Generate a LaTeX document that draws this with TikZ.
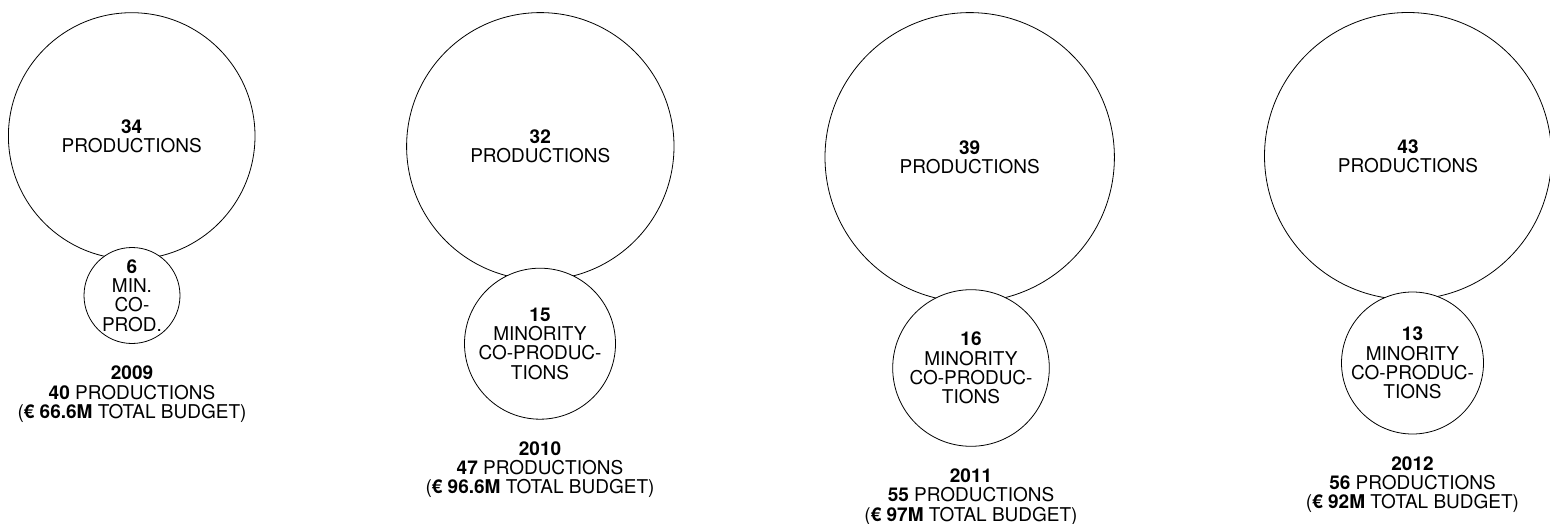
\documentclass[tikz,border=0pt]{standalone}
\usepackage{fontspec}
\setmainfont{TeX Gyre Heros}
\usetikzlibrary{positioning}
\tikzset{
	bigc/.style={circle, draw, line width=0.8pt, inner sep=0pt, align=center},
	minc/.style={circle, draw, fill=white, line width=0.8pt, inner sep=0pt, align=center},
	caption/.style={align=center, inner sep=0pt},
	every node/.style={font=\fontsize{19}{19.2}\selectfont}
}

\begin{document}
\begin{tikzpicture}[x=1pt, y=-1pt]
		%%%%% START %%%%%
		
		\useasboundingbox (0, 0) rectangle (1550, 524);
		
		% 2009
		\node[bigc, minimum size=246.6pt] (big1) at (131.7, 136) {\textbf{34}\\PRODUCTIONS};
		\node[minc, minimum size=96pt] (min1) at (132, 295.5) {\textbf{6}\\MIN.\\CO-\\PROD.};
		\node[caption, below=22pt of min1] (cap1) {\textbf{2009}\\\textbf{40} PRODUCTIONS\\(\textbf{€ 66.6M} TOTAL BUDGET)};
		
		% 2010
		\node[bigc, minimum size=267.4pt] (big2) at (540.3, 146.3) {\textbf{32}\\PRODUCTIONS};
		\node[minc, minimum size=151pt] (min2) at (540, 343.7) {\textbf{15}\\MINORITY\\CO-PRODUC-\\TIONS};
		\node[caption, below=22pt of min2] (cap2) {\textbf{2010}\\\textbf{47} PRODUCTIONS\\(\textbf{€ 96.6M} TOTAL BUDGET)};
		
		% 2011
		\node[bigc, minimum size=289.4pt] (big3) at (969.7, 157.3) {\textbf{39}\\PRODUCTIONS};
		\node[minc, minimum size=156.6pt] (min3) at (971, 368) {\textbf{16}\\MINORITY\\CO-PRODUC-\\TIONS};
		\node[caption, below=22pt of min3] (cap3) {\textbf{2011}\\\textbf{55} PRODUCTIONS\\(\textbf{€ 97M} TOTAL BUDGET)};
		
		% 2012
		\node[bigc, minimum size=287pt] (big4) at (1408, 156) {\textbf{43}\\PRODUCTIONS};
		\node[minc, minimum size=142pt] (min4) at (1412.5, 363) {\textbf{13}\\MINORITY\\CO-PRODUC-\\TIONS};
		\node[caption, below=22pt of min4] (cap4) {\textbf{2012}\\\textbf{56} PRODUCTIONS\\(\textbf{€ 92M} TOTAL BUDGET)};
		
		%%%%% END %%%%%
\end{tikzpicture}
\end{document}
